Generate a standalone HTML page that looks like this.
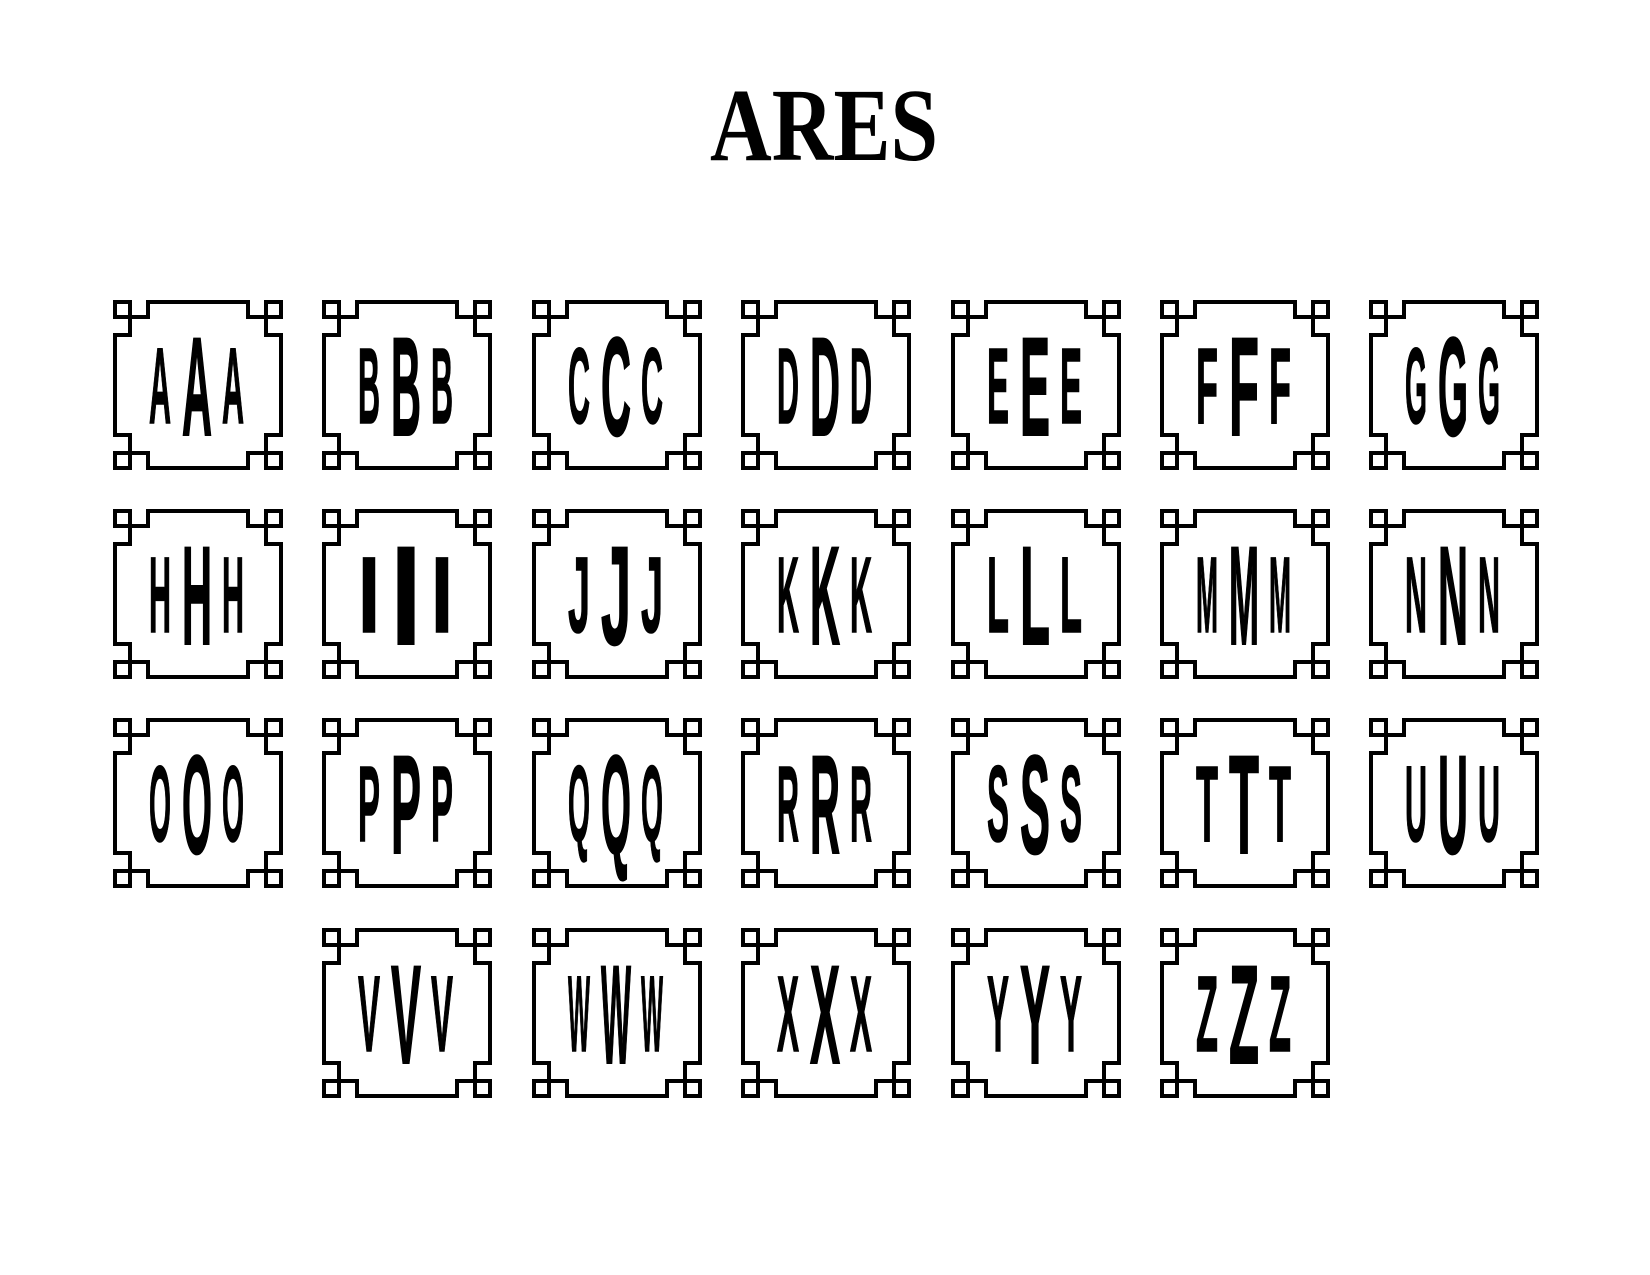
<!DOCTYPE html>
<html><head><meta charset="utf-8"><style>
html,body{margin:0;padding:0;background:#fff;}
svg{display:block;}
.s{font-family:"Liberation Sans",sans-serif;font-weight:bold;font-size:108px;stroke:#000;stroke-width:1.5px;}
.m{font-family:"Liberation Sans",sans-serif;font-weight:bold;font-size:140px;stroke:#000;stroke-width:2px;}
</style></head><body>
<svg width="1650" height="1275" viewBox="0 0 1650 1275" xmlns="http://www.w3.org/2000/svg">
<defs>
<g id="f" fill="none" stroke="#000" stroke-width="4">
<path d="M17,17 H35 V2 H135 V17 H153 V35 H168 V135 H153 V153 H135 V168 H35 V153 H17 V135 H2 V35 H17 Z"/>
<rect x="2" y="2" width="15" height="15"/><rect x="153" y="2" width="15" height="15"/>
<rect x="2" y="153" width="15" height="15"/><rect x="153" y="153" width="15" height="15"/>
</g>
</defs>
<text x="824" y="160" text-anchor="middle" font-family="Liberation Serif, serif" font-weight="bold" font-size="104" textLength="228" lengthAdjust="spacingAndGlyphs">ARES</text>

<g transform="translate(113,300)"><use href="#f"/><text class="s" x="36" y="123" textLength="22" lengthAdjust="spacingAndGlyphs">A</text><text class="m" x="69" y="135" textLength="30" lengthAdjust="spacingAndGlyphs">A</text><text class="s" x="109" y="123" textLength="22" lengthAdjust="spacingAndGlyphs">A</text></g>
<g transform="translate(322,300)"><use href="#f"/><text class="s" x="36" y="123" textLength="22" lengthAdjust="spacingAndGlyphs">B</text><text class="m" x="69" y="135" textLength="30" lengthAdjust="spacingAndGlyphs">B</text><text class="s" x="109" y="123" textLength="22" lengthAdjust="spacingAndGlyphs">B</text></g>
<g transform="translate(532,300)"><use href="#f"/><text class="s" x="36" y="123" textLength="22" lengthAdjust="spacingAndGlyphs">C</text><text class="m" x="69" y="135" textLength="30" lengthAdjust="spacingAndGlyphs">C</text><text class="s" x="109" y="123" textLength="22" lengthAdjust="spacingAndGlyphs">C</text></g>
<g transform="translate(741,300)"><use href="#f"/><text class="s" x="36" y="123" textLength="22" lengthAdjust="spacingAndGlyphs">D</text><text class="m" x="69" y="135" textLength="30" lengthAdjust="spacingAndGlyphs">D</text><text class="s" x="109" y="123" textLength="22" lengthAdjust="spacingAndGlyphs">D</text></g>
<g transform="translate(951,300)"><use href="#f"/><text class="s" x="36" y="123" textLength="22" lengthAdjust="spacingAndGlyphs">E</text><text class="m" x="69" y="135" textLength="30" lengthAdjust="spacingAndGlyphs">E</text><text class="s" x="109" y="123" textLength="22" lengthAdjust="spacingAndGlyphs">E</text></g>
<g transform="translate(1160,300)"><use href="#f"/><text class="s" x="36" y="123" textLength="22" lengthAdjust="spacingAndGlyphs">F</text><text class="m" x="69" y="135" textLength="30" lengthAdjust="spacingAndGlyphs">F</text><text class="s" x="109" y="123" textLength="22" lengthAdjust="spacingAndGlyphs">F</text></g>
<g transform="translate(1369,300)"><use href="#f"/><text class="s" x="36" y="123" textLength="22" lengthAdjust="spacingAndGlyphs">G</text><text class="m" x="69" y="135" textLength="30" lengthAdjust="spacingAndGlyphs">G</text><text class="s" x="109" y="123" textLength="22" lengthAdjust="spacingAndGlyphs">G</text></g>

<g transform="translate(113,509)"><use href="#f"/><text class="s" x="36" y="123" textLength="22" lengthAdjust="spacingAndGlyphs">H</text><text class="m" x="69" y="135" textLength="30" lengthAdjust="spacingAndGlyphs">H</text><text class="s" x="109" y="123" textLength="22" lengthAdjust="spacingAndGlyphs">H</text></g>
<g transform="translate(322,509)"><use href="#f"/><text class="s" x="36" y="123" textLength="22" lengthAdjust="spacingAndGlyphs">I</text><text class="m" x="69" y="135" textLength="30" lengthAdjust="spacingAndGlyphs">I</text><text class="s" x="109" y="123" textLength="22" lengthAdjust="spacingAndGlyphs">I</text></g>
<g transform="translate(532,509)"><use href="#f"/><text class="s" x="36" y="123" textLength="22" lengthAdjust="spacingAndGlyphs">J</text><text class="m" x="69" y="135" textLength="30" lengthAdjust="spacingAndGlyphs">J</text><text class="s" x="109" y="123" textLength="22" lengthAdjust="spacingAndGlyphs">J</text></g>
<g transform="translate(741,509)"><use href="#f"/><text class="s" x="36" y="123" textLength="22" lengthAdjust="spacingAndGlyphs">K</text><text class="m" x="69" y="135" textLength="30" lengthAdjust="spacingAndGlyphs">K</text><text class="s" x="109" y="123" textLength="22" lengthAdjust="spacingAndGlyphs">K</text></g>
<g transform="translate(951,509)"><use href="#f"/><text class="s" x="36" y="123" textLength="22" lengthAdjust="spacingAndGlyphs">L</text><text class="m" x="69" y="135" textLength="30" lengthAdjust="spacingAndGlyphs">L</text><text class="s" x="109" y="123" textLength="22" lengthAdjust="spacingAndGlyphs">L</text></g>
<g transform="translate(1160,509)"><use href="#f"/><text class="s" x="36" y="123" textLength="22" lengthAdjust="spacingAndGlyphs">M</text><text class="m" x="69" y="135" textLength="30" lengthAdjust="spacingAndGlyphs">M</text><text class="s" x="109" y="123" textLength="22" lengthAdjust="spacingAndGlyphs">M</text></g>
<g transform="translate(1369,509)"><use href="#f"/><text class="s" x="36" y="123" textLength="22" lengthAdjust="spacingAndGlyphs">N</text><text class="m" x="69" y="135" textLength="30" lengthAdjust="spacingAndGlyphs">N</text><text class="s" x="109" y="123" textLength="22" lengthAdjust="spacingAndGlyphs">N</text></g>

<g transform="translate(113,718)"><use href="#f"/><text class="s" x="36" y="123" textLength="22" lengthAdjust="spacingAndGlyphs">O</text><text class="m" x="69" y="135" textLength="30" lengthAdjust="spacingAndGlyphs">O</text><text class="s" x="109" y="123" textLength="22" lengthAdjust="spacingAndGlyphs">O</text></g>
<g transform="translate(322,718)"><use href="#f"/><text class="s" x="36" y="123" textLength="22" lengthAdjust="spacingAndGlyphs">P</text><text class="m" x="69" y="135" textLength="30" lengthAdjust="spacingAndGlyphs">P</text><text class="s" x="109" y="123" textLength="22" lengthAdjust="spacingAndGlyphs">P</text></g>
<g transform="translate(532,718)"><use href="#f"/><text class="s" x="36" y="123" textLength="22" lengthAdjust="spacingAndGlyphs">Q</text><text class="m" x="69" y="135" textLength="30" lengthAdjust="spacingAndGlyphs">Q</text><text class="s" x="109" y="123" textLength="22" lengthAdjust="spacingAndGlyphs">Q</text></g>
<g transform="translate(741,718)"><use href="#f"/><text class="s" x="36" y="123" textLength="22" lengthAdjust="spacingAndGlyphs">R</text><text class="m" x="69" y="135" textLength="30" lengthAdjust="spacingAndGlyphs">R</text><text class="s" x="109" y="123" textLength="22" lengthAdjust="spacingAndGlyphs">R</text></g>
<g transform="translate(951,718)"><use href="#f"/><text class="s" x="36" y="123" textLength="22" lengthAdjust="spacingAndGlyphs">S</text><text class="m" x="69" y="135" textLength="30" lengthAdjust="spacingAndGlyphs">S</text><text class="s" x="109" y="123" textLength="22" lengthAdjust="spacingAndGlyphs">S</text></g>
<g transform="translate(1160,718)"><use href="#f"/><text class="s" x="36" y="123" textLength="22" lengthAdjust="spacingAndGlyphs">T</text><text class="m" x="69" y="135" textLength="30" lengthAdjust="spacingAndGlyphs">T</text><text class="s" x="109" y="123" textLength="22" lengthAdjust="spacingAndGlyphs">T</text></g>
<g transform="translate(1369,718)"><use href="#f"/><text class="s" x="36" y="123" textLength="22" lengthAdjust="spacingAndGlyphs">U</text><text class="m" x="69" y="135" textLength="30" lengthAdjust="spacingAndGlyphs">U</text><text class="s" x="109" y="123" textLength="22" lengthAdjust="spacingAndGlyphs">U</text></g>

<g transform="translate(322,928)"><use href="#f"/><text class="s" x="36" y="123" textLength="22" lengthAdjust="spacingAndGlyphs">V</text><text class="m" x="69" y="135" textLength="30" lengthAdjust="spacingAndGlyphs">V</text><text class="s" x="109" y="123" textLength="22" lengthAdjust="spacingAndGlyphs">V</text></g>
<g transform="translate(532,928)"><use href="#f"/><text class="s" x="36" y="123" textLength="22" lengthAdjust="spacingAndGlyphs">W</text><text class="m" x="69" y="135" textLength="30" lengthAdjust="spacingAndGlyphs">W</text><text class="s" x="109" y="123" textLength="22" lengthAdjust="spacingAndGlyphs">W</text></g>
<g transform="translate(741,928)"><use href="#f"/><text class="s" x="36" y="123" textLength="22" lengthAdjust="spacingAndGlyphs">X</text><text class="m" x="69" y="135" textLength="30" lengthAdjust="spacingAndGlyphs">X</text><text class="s" x="109" y="123" textLength="22" lengthAdjust="spacingAndGlyphs">X</text></g>
<g transform="translate(951,928)"><use href="#f"/><text class="s" x="36" y="123" textLength="22" lengthAdjust="spacingAndGlyphs">Y</text><text class="m" x="69" y="135" textLength="30" lengthAdjust="spacingAndGlyphs">Y</text><text class="s" x="109" y="123" textLength="22" lengthAdjust="spacingAndGlyphs">Y</text></g>
<g transform="translate(1160,928)"><use href="#f"/><text class="s" x="36" y="123" textLength="22" lengthAdjust="spacingAndGlyphs">Z</text><text class="m" x="69" y="135" textLength="30" lengthAdjust="spacingAndGlyphs">Z</text><text class="s" x="109" y="123" textLength="22" lengthAdjust="spacingAndGlyphs">Z</text></g>
</svg>
</body></html>
